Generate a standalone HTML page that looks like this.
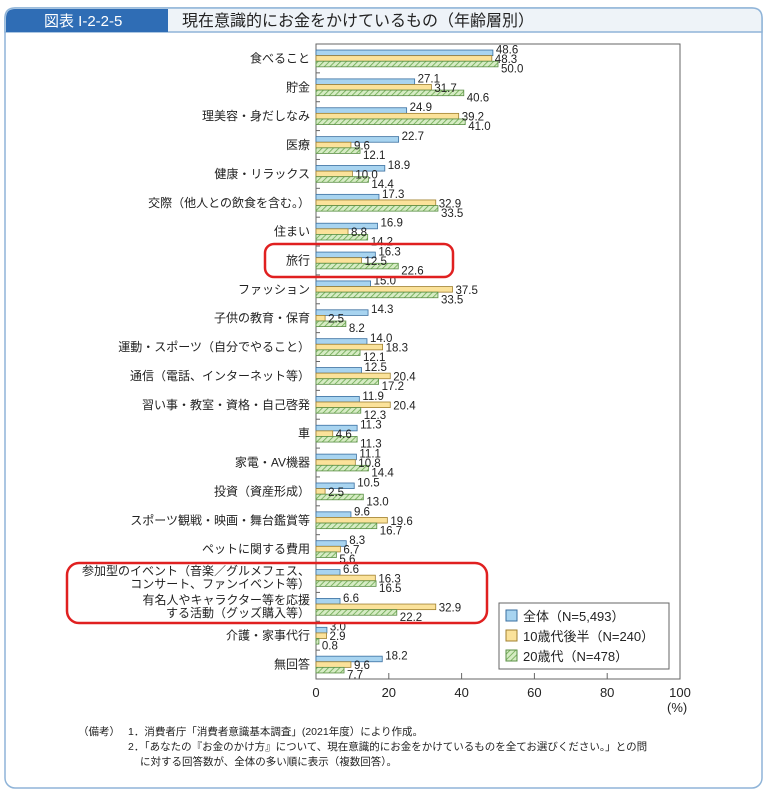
<!DOCTYPE html>
<html><head><meta charset="utf-8">
<style>
body{margin:0;background:#fff;}
svg text{font-family:"Liberation Sans","Noto Sans CJK JP",sans-serif;}
</style></head>
<body>
<svg width="768" height="792" viewBox="0 0 768 792" xmlns="http://www.w3.org/2000/svg" id="svg">
<defs>
<pattern id="hatch" width="4" height="4" patternUnits="userSpaceOnUse" patternTransform="rotate(45)">
<rect width="4" height="4" fill="#d6ecc4"/><line x1="0" y1="0" x2="0" y2="4" stroke="#6aa84f" stroke-width="1.6"/>
</pattern>
</defs>
<rect x="5" y="8" width="757" height="780" rx="10" fill="#fff" stroke="#8fb4d8" stroke-width="1.5"/>
<path d="M5 32 V18 Q5 8 15 8 H752 Q762 8 762 18 V32 Z" fill="#eef3f8" stroke="#8fb4d8" stroke-width="1.5"/>
<path d="M6 32 V18 Q6 9 15 9 H168 V32 Z" fill="#2f6db5"/>
<text x="44" y="26" font-size="15" fill="#fff">図表 I-2-2-5</text>
<text x="182" y="26" font-size="16" fill="#222">現在意識的にお金をかけているもの（年齢層別）</text>
<rect x="316" y="44" width="364" height="635" fill="none" stroke="#666" stroke-width="1"/>
<g id="ticks"></g>
<g id="bars"></g>
<g id="labels"></g>
<rect x="265" y="244" width="188" height="33" rx="9" fill="none" stroke="#e02020" stroke-width="2.5"/>
<rect x="67" y="563" width="420" height="60" rx="12" fill="none" stroke="#e02020" stroke-width="2.5"/>
<g>
<rect x="499" y="603" width="170" height="66" fill="#fff" stroke="#666"/>
<rect x="506" y="610" width="11" height="11" fill="#a8d4f0" stroke="#3a6fa0"/>
<text x="523" y="621" font-size="13" fill="#222">全体（N=5,493）</text>
<rect x="506" y="630" width="11" height="11" fill="#fbe29a" stroke="#a08030"/>
<text x="523" y="641" font-size="13" fill="#222">10歳代後半（N=240）</text>
<rect x="506" y="650" width="11" height="11" fill="url(#hatch)" stroke="#5a8f45"/>
<text x="523" y="661" font-size="13" fill="#222">20歳代（N=478）</text>
</g>
<text x="667" y="712" font-size="13" fill="#222">(%)</text>
<g font-size="10.5" fill="#222">
<text x="78" y="735">（備考）</text>
<text x="128" y="735">1．消費者庁「消費者意識基本調査」(2021年度）により作成。</text>
<text x="128" y="750">2．「あなたの『お金のかけ方』について、現在意識的にお金をかけているものを全てお選びください。」との問</text>
<text x="140" y="765">に対する回答数が、全体の多い順に表示（複数回答）。</text>
</g>
</svg>
<script>
const categories=[["食べること"],["貯金"],["理美容・身だしなみ"],["医療"],["健康・リラックス"],["交際（他人との飲食を含む。）"],["住まい"],["旅行"],["ファッション"],["子供の教育・保育"],["運動・スポーツ（自分でやること）"],["通信（電話、インターネット等）"],["習い事・教室・資格・自己啓発"],["車"],["家電・AV機器"],["投資（資産形成）"],["スポーツ観戦・映画・舞台鑑賞等"],["ペットに関する費用"],["参加型のイベント（音楽／グルメフェス、","コンサート、ファンイベント等）"],["有名人やキャラクター等を応援","する活動（グッズ購入等）"],["介護・家事代行"],["無回答"]];
const seriesAll=[48.6,27.1,24.9,22.7,18.9,17.3,16.9,16.3,15.0,14.3,14.0,12.5,11.9,11.3,11.1,10.5,9.6,8.3,6.6,6.6,3.0,18.2];
const seriesTeen=[48.3,31.7,39.2,9.6,10.0,32.9,8.8,12.5,37.5,2.5,18.3,20.4,20.4,4.6,10.8,2.5,19.6,6.7,16.3,32.9,2.9,9.6];
const series20s=[50.0,40.6,41.0,12.1,14.4,33.5,14.2,22.6,33.5,8.2,12.1,17.2,12.3,11.3,14.4,13.0,16.7,5.6,16.5,22.2,0.8,7.7];
const xTicks=[0,20,40,60,80,100];
const NS="http://www.w3.org/2000/svg";
const x0=316,x1=680,xMax=100;
const xs=v=>x0+(v/xMax)*(x1-x0);
const yTop=44,rowH=(679-44)/categories.length;
const yc=i=>yTop+rowH*(i+0.5);
function mk(tag,attrs,parent){const e=document.createElementNS(NS,tag);for(const k in attrs)e.setAttribute(k,attrs[k]);parent.appendChild(e);return e;}
const gb=document.getElementById('bars'),gl=document.getElementById('labels'),gt=document.getElementById('ticks');
xTicks.forEach(t=>{
 const l=mk('line',{x1:xs(t),x2:xs(t),y1:679,y2:673,stroke:'#666'},gt);
 
 
 const tx=mk('text',{x:xs(t),y:697,'font-size':13,'text-anchor':'middle',fill:'#222'},gt);
 tx.textContent=t;
 
 
});
const styles=[{fill:'#a8d4f0',stroke:'#3a6fa0'},{fill:'#fbe29a',stroke:'#a08030'},{fill:'url(#hatch)',stroke:'#5a8f45'}];
const names=['all','teen','twenties'];
const bh=5.6;
categories.forEach((c,i)=>{
 const cy=yc(i);
 const tk=mk('line',{x1:x0,x2:x0+4,y1:yTop+rowH*i,y2:yTop+rowH*i,stroke:'#666'},gt);
 
 
 const lab=mk('text',{x:310,'font-size':12,'text-anchor':'end',fill:'#222'},gl);
 
 
 if(c.length===1){lab.setAttribute('y',cy+4);lab.textContent=c[0];}
 else{c.forEach((s,k)=>{const ts=mk('tspan',{x:310,y:cy-3+k*13},lab);ts.textContent=s;});}
 [seriesAll[i],seriesTeen[i],series20s[i]].forEach((v,k)=>{
  const y=cy-bh*1.5+k*bh;
  const r=mk('rect',{x:x0,y:y,width:xs(v)-x0,height:bh,fill:styles[k].fill,stroke:styles[k].stroke,'stroke-width':0.8},gb);
  
  
  const t=mk('text',{x:xs(v)+3,y:cy-5+k*9.5,'font-size':11.5,fill:'#222'},gl);
  t.textContent=v.toFixed(1);
  
  
 });
});
</script>
</body></html>
